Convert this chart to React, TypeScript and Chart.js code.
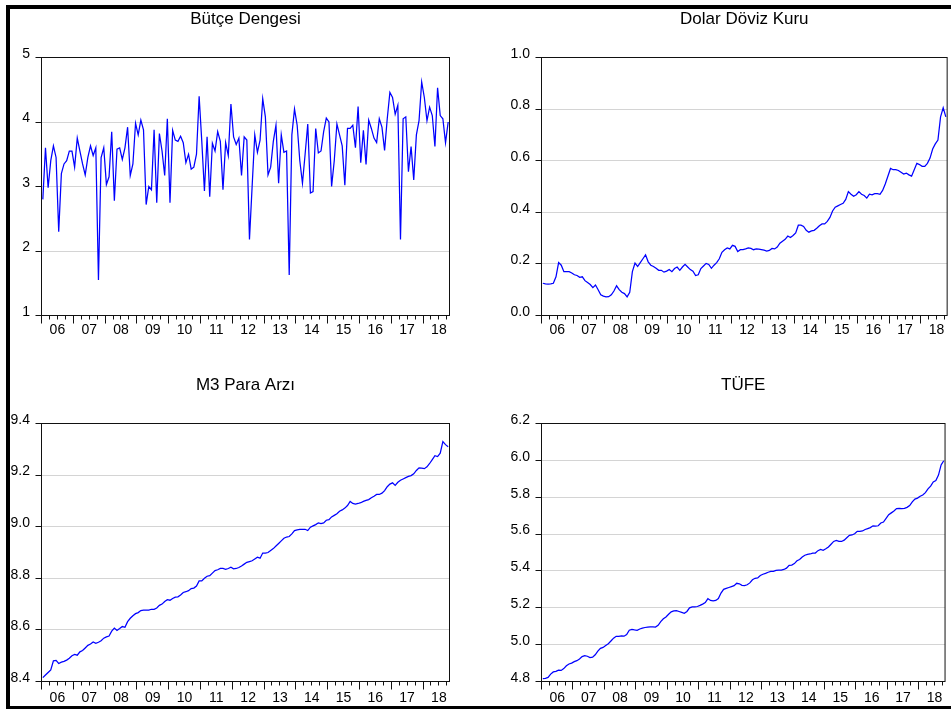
import React, { useEffect, useRef } from 'react';
import { Chart, registerables } from 'chart.js';

Chart.register(...registerables);

// ---------------- data ----------------
const YEAR_LABELS = ['06', '07', '08', '09', '10', '11', '12', '13', '14', '15', '16', '17', '18'];
const MONTH_COUNT = 154; // 2006M01 .. 2018M10

const BUTCE_TITLE = 'Bütçe Dengesi';
const BUTCE_VALUES = [
  2.8, 3.6, 2.98, 3.4, 3.63, 3.45, 2.3, 3.2, 3.35, 3.4,
  3.55, 3.55, 3.3, 3.75, 3.55, 3.35, 3.18, 3.45, 3.63, 3.48,
  3.6, 1.55, 3.45, 3.6, 3.03, 3.15, 3.85, 2.78, 3.58, 3.6,
  3.42, 3.6, 3.92, 3.17, 3.35, 3.98, 3.8, 4.03, 3.88, 2.72,
  3.0, 2.95, 3.88, 2.75, 3.82, 3.55, 3.17, 4.05, 2.75, 3.87,
  3.72, 3.7, 3.78, 3.68, 3.37, 3.5, 3.27, 3.3, 3.5, 4.4,
  3.7, 2.93, 3.77, 2.84, 3.67, 3.55, 3.85, 3.7, 2.95, 3.68,
  3.48, 4.28, 3.77, 3.65, 3.75, 3.17, 3.77, 3.72, 2.18, 3.0,
  3.8, 3.53, 3.72, 4.36, 4.08, 3.18, 3.3, 3.7, 3.95, 3.05,
  3.8, 3.53, 3.55, 1.63, 3.8, 4.2, 3.95, 3.4, 3.05, 3.5,
  3.97, 2.9, 2.92, 3.9, 3.52, 3.55, 3.85, 4.06, 4.0, 3.0,
  3.4, 3.97, 3.8, 3.63, 3.02, 3.9, 3.9, 3.95, 3.6, 4.24,
  3.37, 3.87, 3.34, 4.03, 3.9, 3.75, 3.68, 4.05, 3.92, 3.56,
  4.05, 4.46, 4.38, 4.12, 4.26, 2.18, 4.05, 4.08, 3.23, 3.62,
  3.1, 3.8, 4.02, 4.62, 4.38, 4.02, 4.23, 4.1, 3.62, 4.53,
  4.1, 4.05, 3.68, 4.0,
];
const BUTCE_TICKS = [1, 2, 3, 4, 5];

const DOLAR_TITLE = 'Dolar Döviz Kuru';
const DOLAR_VALUES = [
  0.125, 0.123, 0.122, 0.123, 0.125,
  0.15, 0.205, 0.195, 0.17, 0.17, 0.17, 0.165, 0.158, 0.155, 0.148,
  0.15, 0.135, 0.128, 0.12, 0.108, 0.118, 0.1, 0.08, 0.075, 0.072,
  0.073, 0.08, 0.095, 0.115, 0.1, 0.09, 0.085, 0.072, 0.09, 0.17,
  0.203, 0.19, 0.205, 0.22, 0.235, 0.208, 0.195, 0.19, 0.183, 0.175,
  0.175, 0.168, 0.172, 0.178, 0.17, 0.182, 0.188, 0.175, 0.188, 0.198,
  0.188, 0.178, 0.172, 0.155, 0.158, 0.182, 0.192, 0.202, 0.198, 0.183,
  0.195, 0.205, 0.22, 0.245, 0.255, 0.262, 0.258, 0.272, 0.268, 0.248,
  0.255, 0.255, 0.258, 0.262, 0.26, 0.255, 0.258, 0.257, 0.255, 0.253,
  0.25, 0.252, 0.26, 0.258, 0.265, 0.28, 0.288, 0.295, 0.308, 0.302,
  0.31, 0.32, 0.35, 0.35, 0.345, 0.33, 0.323, 0.328, 0.33, 0.338,
  0.348, 0.355, 0.355, 0.365, 0.38, 0.405, 0.42, 0.425, 0.43, 0.435,
  0.45, 0.48, 0.47, 0.462, 0.468, 0.48, 0.47, 0.465, 0.455, 0.47,
  0.468, 0.472, 0.472, 0.47, 0.485, 0.51, 0.54, 0.57, 0.565, 0.565,
  0.562, 0.555, 0.548, 0.552, 0.545, 0.54, 0.565, 0.59, 0.585, 0.578,
  0.578, 0.59, 0.61, 0.645, 0.665, 0.68, 0.77, 0.805, 0.77,
];
const DOLAR_TICKS = [0, 0.2, 0.4, 0.6, 0.8, 1.0];

const M3_TITLE = 'M3 Para Arzı';
const M3_VALUES = [
  8.415, 8.425, 8.435, 8.445, 8.48, 8.482, 8.47, 8.475, 8.478, 8.483,
  8.49, 8.5, 8.505, 8.502, 8.515, 8.52, 8.53, 8.54, 8.545, 8.553,
  8.548, 8.552, 8.558, 8.568, 8.573, 8.576, 8.595, 8.607, 8.598, 8.605,
  8.613, 8.61, 8.632, 8.645, 8.655, 8.663, 8.667, 8.675, 8.677, 8.677,
  8.677, 8.68, 8.68, 8.685, 8.695, 8.7, 8.71, 8.717, 8.715, 8.722,
  8.727, 8.728, 8.735, 8.745, 8.748, 8.752, 8.76, 8.762, 8.77, 8.79,
  8.79, 8.8, 8.808, 8.81, 8.82, 8.83, 8.833, 8.838, 8.838, 8.835,
  8.838, 8.843, 8.837, 8.838, 8.842, 8.848, 8.855, 8.862, 8.865, 8.868,
  8.875, 8.882, 8.878, 8.898, 8.898, 8.9, 8.908, 8.915, 8.925, 8.935,
  8.945, 8.955, 8.96, 8.962, 8.972, 8.985, 8.988, 8.99, 8.99, 8.99,
  8.985, 8.998, 9.003, 9.008, 9.015, 9.012, 9.015, 9.025, 9.027, 9.038,
  9.044, 9.05, 9.06, 9.065, 9.072, 9.082, 9.098, 9.09, 9.088, 9.09,
  9.093, 9.098, 9.102, 9.105, 9.112, 9.118, 9.125, 9.125, 9.13, 9.14,
  9.155, 9.165, 9.17, 9.16, 9.172, 9.18, 9.185, 9.19, 9.195, 9.198,
  9.205, 9.218, 9.228, 9.227, 9.225, 9.232, 9.245, 9.26, 9.275, 9.272,
  9.285, 9.33, 9.318, 9.31,
];
const M3_TICKS = [8.4, 8.6, 8.8, 9.0, 9.2, 9.4];

const TUFE_TITLE = 'TÜFE';
const TUFE_VALUES = [
  4.815, 4.817, 4.822, 4.84, 4.852, 4.855, 4.862, 4.86, 4.87, 4.885,
  4.895, 4.9, 4.908, 4.913, 4.922, 4.935, 4.94, 4.937, 4.93, 4.932,
  4.945, 4.965, 4.98, 4.985, 4.995, 5.005, 5.02, 5.035, 5.045, 5.045,
  5.047, 5.046, 5.055, 5.078, 5.083, 5.08, 5.078, 5.085, 5.09, 5.093,
  5.095, 5.097, 5.097, 5.095, 5.105, 5.125, 5.14, 5.15, 5.165, 5.178,
  5.183, 5.185, 5.18, 5.175, 5.17, 5.18, 5.2, 5.205, 5.205, 5.207,
  5.213, 5.22, 5.228, 5.25, 5.24, 5.237, 5.24, 5.25, 5.28, 5.3,
  5.305, 5.31, 5.315, 5.32, 5.333, 5.33, 5.322, 5.32, 5.325, 5.335,
  5.352, 5.36, 5.362, 5.375, 5.382, 5.387, 5.393, 5.397, 5.398, 5.403,
  5.405, 5.405, 5.408, 5.415, 5.43, 5.432, 5.44, 5.455, 5.462, 5.475,
  5.485, 5.49, 5.492, 5.497, 5.497, 5.51, 5.517, 5.512, 5.52, 5.53,
  5.545, 5.56, 5.565, 5.56, 5.56, 5.567, 5.58, 5.593, 5.595, 5.602,
  5.615, 5.615, 5.617, 5.625, 5.63, 5.635, 5.645, 5.643, 5.645, 5.66,
  5.665, 5.685, 5.705, 5.715, 5.725, 5.738, 5.74, 5.738, 5.74, 5.745,
  5.755, 5.775, 5.79, 5.795, 5.805, 5.812, 5.825, 5.845, 5.86, 5.883,
  5.89, 5.92, 5.975, 5.998,
];
const TUFE_TICKS = [4.8, 5.0, 5.2, 5.4, 5.6, 5.8, 6.0, 6.2];

// ---------------- layout / style ----------------
const FONT = "'Liberation Sans', Arial, Helvetica, sans-serif";
const LINE_COLOR = '#0000ff';
const GRID_COLOR = '#d4d4d4';

type Panel = {
  title: string;
  values: number[];
  ticks: number[];
  decimals: number;
  left: number;
  top: number;
  width: number;
  height: number;
  yAxisWidth: number;
  xAxisHeight: number;
  padRight: number;
  titlePadTop: number;
  titlePadBottom: number;
  xLabelPad: number;
};

const PANELS: Panel[] = [
  { title: BUTCE_TITLE, values: BUTCE_VALUES, ticks: BUTCE_TICKS, decimals: 0,
    left: 0, top: 0, width: 475, height: 350, yAxisWidth: 41.5, xAxisHeight: 34.5, padRight: 25.5,
    titlePadTop: 9, titlePadBottom: 28.1, xLabelPad: 6.5 },
  { title: DOLAR_TITLE, values: DOLAR_VALUES, ticks: DOLAR_TICKS, decimals: 1,
    left: 475, top: 0, width: 476, height: 350, yAxisWidth: 66.5, xAxisHeight: 34.5, padRight: 3.5,
    titlePadTop: 9, titlePadBottom: 28.1, xLabelPad: 6.5 },
  { title: M3_TITLE, values: M3_VALUES, ticks: M3_TICKS, decimals: 1,
    left: 0, top: 355, width: 475, height: 354, yAxisWidth: 41.5, xAxisHeight: 27.5, padRight: 25.5,
    titlePadTop: 20, titlePadBottom: 28.1, xLabelPad: 8.5 },
  { title: TUFE_TITLE, values: TUFE_VALUES, ticks: TUFE_TICKS, decimals: 1,
    left: 475, top: 355, width: 476, height: 354, yAxisWidth: 66.5, xAxisHeight: 27.5, padRight: 3.5,
    titlePadTop: 20, titlePadBottom: 28.1, xLabelPad: 8.5 },
];

const framePlugin = {
  id: 'evFrame',
  afterDraw(chart: any) {
    const { ctx, chartArea: a, scales } = chart;
    const xs = scales.x;
    ctx.save();
    ctx.strokeStyle = '#111';
    ctx.lineWidth = 1;
    ctx.strokeRect(a.left, a.top, a.right - a.left, a.bottom - a.top);
    ctx.beginPath();
    for (let m = 0; m < MONTH_COUNT; m += 3) {
      const px = Math.floor(xs.getPixelForValue(m)) + 0.5;
      const len = m % 12 === 0 ? 8 : 4;
      ctx.moveTo(px, a.bottom);
      ctx.lineTo(px, a.bottom + len);
    }
    ctx.stroke();
    ctx.restore();
  },
};

function PanelChart({ p }: { p: Panel }) {
  const ref = useRef<HTMLCanvasElement | null>(null);
  useEffect(() => {
    if (!ref.current) return;
    const lo = p.ticks[0];
    const hi = p.ticks[p.ticks.length - 1];
    const chart = new Chart(ref.current, {
      type: 'line',
      data: {
        datasets: [
          {
            data: p.values.map((v, i) => ({ x: i + 0.5, y: v })),
            borderColor: LINE_COLOR,
            borderWidth: 1.25,
            pointRadius: 0,
            tension: 0,
            fill: false,
          },
        ],
      },
      options: {
        animation: false,
        responsive: false,
        maintainAspectRatio: false,
        events: [],
        layout: { padding: { left: 0, right: p.padRight, top: 0, bottom: 0 } },
        plugins: {
          legend: { display: false },
          tooltip: { enabled: false },
          title: {
            display: true,
            text: p.title,
            fullSize: false,
            color: '#000',
            font: { family: FONT, size: 17, weight: 'normal' },
            padding: { top: p.titlePadTop, bottom: p.titlePadBottom },
          },
        },
        scales: {
          x: {
            type: 'linear',
            min: 0,
            max: MONTH_COUNT,
            grid: { display: false, drawTicks: false },
            border: { display: false },
            afterBuildTicks: (s: any) => {
              s.ticks = YEAR_LABELS.map((_, k) => ({ value: k * 12 + 6 }));
            },
            afterFit: (s: any) => {
              s.height = p.xAxisHeight;
            },
            ticks: {
              autoSkip: false,
              maxRotation: 0,
              minRotation: 0,
              padding: p.xLabelPad,
              color: '#000',
              font: { family: FONT, size: 14 },
              callback: (_v: any, i: number) => YEAR_LABELS[i],
            },
          },
          y: {
            type: 'linear',
            min: lo,
            max: hi,
            afterBuildTicks: (s: any) => {
              s.ticks = p.ticks.map((v) => ({ value: v }));
            },
            afterFit: (s: any) => {
              s.width = p.yAxisWidth;
            },
            grid: {
              color: GRID_COLOR,
              tickColor: '#111',
              tickLength: 6,
              lineWidth: 1,
              drawTicks: true,
            },
            border: { display: false },
            ticks: {
              padding: 5.5,
              labelOffset: -3.5,
              color: '#000',
              font: { family: FONT, size: 14 },
              callback: (v: any) => Number(v).toFixed(p.decimals),
            },
          },
        },
      } as any,
      plugins: [framePlugin],
    });
    return () => chart.destroy();
  }, [p]);
  return (
    <canvas
      ref={ref}
      width={p.width}
      height={p.height}
      style={{ position: 'absolute', left: p.left, top: p.top, width: p.width, height: p.height }}
    />
  );
}

export default function App() {
  return (
    <div style={{ position: 'absolute', left: 0, top: 0, width: 951, height: 709, background: '#fff', overflow: 'hidden' }}>
      {PANELS.map((p) => (
        <PanelChart key={p.title} p={p} />
      ))}
      <div style={{ position: 'absolute', left: 6, top: 5, width: 945, height: 4, background: '#000' }} />
      <div style={{ position: 'absolute', left: 6, top: 5, width: 4, height: 704, background: '#000' }} />
      <div style={{ position: 'absolute', left: 6, top: 706, width: 945, height: 3, background: '#000' }} />
    </div>
  );
}
